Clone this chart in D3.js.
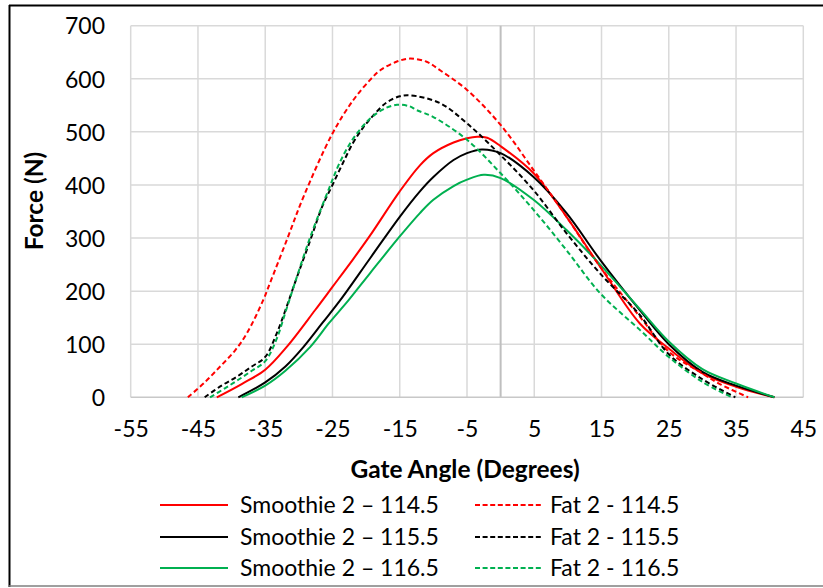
<!DOCTYPE html>
<html>
<head>
<meta charset="utf-8">
<script src="https://cdn.jsdelivr.net/npm/d3@7"></script>
<style>
  html, body { margin: 0; padding: 0; background: #fff; }
  svg { display: block; }
  text { font-family: Lato, "Open Sans", sans-serif; fill: #000; }
</style>
</head>
<body>
<svg id="chart" width="823" height="588"></svg>
<script>
// ---------- data ----------
const xTicks = [-55, -45, -35, -25, -15, -5, 5, 15, 25, 35, 45];
const yTicks = [0, 100, 200, 300, 400, 500, 600, 700];

const smoothie1145X = [-42.2,-38.5,-35,-31.8,-27.6,-25,-22,-19.4,-15,-12,-10,-7,-5,-3.5,-2,0,4.9,9.8,14.8,20.7,25,30,35,40.7];
const smoothie1145Y = [0,25,52,95,164,208,259,305,388,437,460,480,488,491,489,473,422,340,246,139,92,45,20,0];

const smoothie1155X = [-39,-35,-32,-29.3,-26.5,-23.9,-19.4,-15,-12,-10,-7,-5,-2.8,0,4.9,9.8,14.8,20.7,25,30,35,40.7];
const smoothie1155Y = [0,28,58,95,140,182,262,340,388,415,447,460,467,460,415,347,259,164,100,48,22,0];

const smoothie1165X = [-38.5,-35,-32,-28.3,-25.5,-22.6,-19.4,-15,-12,-10,-7,-5,-2.5,0,4.9,9.8,14.8,20.7,25,30,35,40.7];
const smoothie1165Y = [0,22,50,95,140,183,234,303,347,372,398,410,419,413,372,315,250,166,105,53,26,0];

const fat1145X = [-46.5,-44,-41.7,-39.5,-37.75,-35.3,-34.3,-31.8,-29.3,-25,-21.9,-19.4,-17.9,-15.5,-13.5,-11,-9,-5,0,4.9,9.8,14.8,20.7,25,30,32.6,36.8];
const fat1145Y = [0,28,58,88,120,183,215,296,378,497,560,598,616,632,638,632,616,579,513,428,340,246,152,86,45,25,0];

const fat1155X = [-44,-41.5,-39.2,-37,-35,-33.3,-32,-30.6,-28.3,-26.5,-25,-23.5,-22,-20.5,-19,-17,-15,-13.5,-9,-5,0,4.9,9.8,14.8,20.7,25,30,34.9];
const fat1155Y = [0,22,39,58,76,120,164,215,296,360,400,440,478,507,530,555,567,569,554,516,456,390,309,233,155,81,34,0];

const fat1165X = [-43.2,-41,-39,-37,-35,-33.3,-32,-30.6,-28.3,-25.4,-24,-22.4,-21,-19.4,-17.4,-15.4,-13.5,-12.5,-10,-5,0,4.9,9.8,14.8,20.7,25,30,34.4];
const fat1165Y = [0,17,33,50,68,110,160,215,302,397,440,478,503,525,543,551,548,541,528,485,422,353,277,196,127,76,29,0];

const seriesNames = ["Smoothie 2 \u2013 114.5","Smoothie 2 \u2013 115.5","Smoothie 2 \u2013 116.5","Fat 2 - 114.5","Fat 2 - 115.5","Fat 2 - 116.5"];
const seriesColors = ["#FF0000","#000000","#00B050","#FF0000","#000000","#00B050"];
const seriesDashed = [false,false,false,true,true,true];
const seriesX = [smoothie1145X, smoothie1155X, smoothie1165X, fat1145X, fat1155X, fat1165X];
const seriesY = [smoothie1145Y, smoothie1155Y, smoothie1165Y, fat1145Y, fat1155Y, fat1165Y];

// ---------- layout ----------
const svg = d3.select("#chart");
const pLeft = 130.7, pRight = 803.3, pTop = 25.7, pBottom = 397.3;
const x = d3.scaleLinear().domain([-55, 45]).range([pLeft, pRight]);
const y = d3.scaleLinear().domain([0, 700]).range([pBottom, pTop]);

svg.append("rect").attr("x", 0).attr("y", 0).attr("width", 823).attr("height", 588).attr("fill", "#fff");

// outer border
svg.append("line").attr("x1", 9.5).attr("x2", 9.5).attr("y1", 5).attr("y2", 587).attr("stroke", "#000").attr("stroke-width", 2);
svg.append("line").attr("x1", 9).attr("x2", 823).attr("y1", 5.5).attr("y2", 5.5).attr("stroke", "#000").attr("stroke-width", 2);
svg.append("line").attr("x1", 9).attr("x2", 823).attr("y1", 586).attr("y2", 586).attr("stroke", "#7f7f7f").attr("stroke-width", 1.5);

// grid
const grid = svg.append("g");
grid.selectAll("line.v").data(xTicks).enter().append("line")
  .attr("x1", d => x(d)).attr("x2", d => x(d)).attr("y1", pTop).attr("y2", pBottom)
  .attr("stroke", "#d9d9d9").attr("stroke-width", 1.5);
grid.selectAll("line.h").data(yTicks.filter(d => d > 0)).enter().append("line")
  .attr("x1", pLeft).attr("x2", pRight).attr("y1", d => y(d)).attr("y2", d => y(d))
  .attr("stroke", "#d9d9d9").attr("stroke-width", 1.5);

// axis lines
svg.append("line").attr("x1", x(0)).attr("x2", x(0)).attr("y1", pTop).attr("y2", pBottom)
  .attr("stroke", "#bfbfbf").attr("stroke-width", 2);
svg.append("line").attr("x1", pLeft).attr("x2", pRight).attr("y1", y(0)).attr("y2", y(0))
  .attr("stroke", "#c8c8c8").attr("stroke-width", 1.5);

// tick labels via axes
const xAxis = d3.axisBottom(x).tickValues(xTicks).tickSize(0).tickPadding(0).tickFormat(d3.format("d"));
const gx = svg.append("g").attr("transform", `translate(0,${pBottom})`).call(xAxis);
gx.select(".domain").remove();
gx.selectAll("text").attr("y", 40).attr("dy", null).attr("font-size", 23).attr("font-family", "Lato, sans-serif")
  .text(d => d < 0 ? "-" + Math.abs(d) : d);

const yAxis = d3.axisLeft(y).tickValues(yTicks).tickSize(0).tickPadding(0).tickFormat(d3.format("d"));
const gy = svg.append("g").attr("transform", `translate(105,0)`).call(yAxis);
gy.select(".domain").remove();
gy.selectAll("text").attr("x", 0).attr("dy", "0.36em").attr("font-size", 23).attr("font-family", "Lato, sans-serif");

// axis titles
svg.append("text").attr("x", 465).attr("y", 478).attr("text-anchor", "middle")
  .attr("font-size", 24.5).attr("font-weight", "bold").text("Gate Angle (Degrees)");
svg.append("text").attr("transform", `translate(43,201) rotate(-90)`).attr("text-anchor", "middle")
  .attr("font-size", 24.5).attr("font-weight", "bold").text("Force (N)");

// series
const line = d3.line().x(d => x(d[0])).y(d => y(d[1])).curve(d3.curveCatmullRom.alpha(0.5));
const plot = svg.append("g");
seriesNames.forEach((name, i) => {
  const pts = seriesX[i].map((v, j) => [v, seriesY[i][j]]);
  plot.append("path").datum(pts).attr("d", line)
    .attr("fill", "none").attr("stroke", seriesColors[i]).attr("stroke-width", 2)
    .attr("stroke-dasharray", seriesDashed[i] ? "5,3" : null);
});

// legend
const legRows = [505, 537, 568];
seriesNames.forEach((name, i) => {
  const col = i < 3 ? 0 : 1;
  const row = i % 3;
  const lx1 = col === 0 ? 160 : 475, lx2 = col === 0 ? 228 : 543, tx = col === 0 ? 240 : 550;
  const ly = legRows[row];
  svg.append("line").attr("x1", lx1).attr("x2", lx2).attr("y1", ly).attr("y2", ly)
    .attr("stroke", seriesColors[i]).attr("stroke-width", 2)
    .attr("stroke-dasharray", seriesDashed[i] ? "5,2.6" : null);
  svg.append("text").attr("x", tx).attr("y", ly).attr("dy", "0.36em").attr("font-size", 23).text(name);
});
</script>
</body>
</html>
